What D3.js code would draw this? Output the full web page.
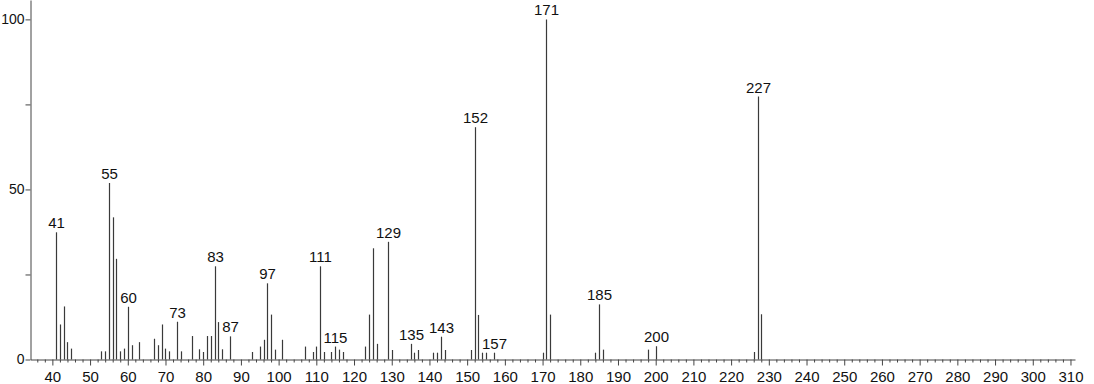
<!DOCTYPE html>
<html lang="en">
<head>
    <meta charset="UTF-8">
    <title>Mass Spectrum</title>
    <script src="https://d3js.org/d3.v7.min.js"></script>
    <style>
        body { margin: 0; background: #fff; }
        svg { display: block; }
        text { font-family: "Liberation Sans", Arial, sans-serif; fill: #111; }
    </style>
</head>
<body>
    <svg id="chart" width="1094" height="384"></svg>
    <script>
        // m/z values and relative intensities
        const masses = [41, 42, 43, 44, 45, 53, 54, 55, 56, 57, 58, 59, 60, 61, 63, 67, 68, 69, 70, 71,
            73, 74, 77, 79, 80, 81, 82, 83, 84, 85, 87, 93, 95, 96, 97, 98, 99, 101, 107, 109,
            110, 111, 112, 114, 115, 116, 117, 123, 124, 125, 126, 129, 130, 135, 136, 137, 141, 142, 143, 144,
            151, 152, 153, 154, 155, 157, 170, 171, 172, 184, 185, 186, 198, 200, 226, 227, 228];
        const intensities = [37.4, 10.3, 15.6, 5.1, 3.2, 2.4, 2.4, 51.9, 41.8, 29.6, 2.4, 3.2, 15.5, 4.2, 5.1, 6.1, 4.2, 10.3, 3.2, 2.4,
            11.1, 2.4, 6.9, 3.0, 2.2, 6.9, 6.9, 27.4, 11.0, 3.0, 6.8, 2.2, 3.8, 5.8, 22.4, 13.2, 2.9, 5.8, 3.8, 2.2,
            3.8, 27.4, 2.2, 2.2, 3.8, 2.9, 2.2, 3.8, 13.2, 32.7, 4.6, 34.6, 2.8, 4.6, 2.0, 2.8, 2.0, 2.0, 6.7, 2.8,
            2.8, 68.3, 13.1, 2.0, 2.0, 2.0, 2.0, 100, 13.2, 2.0, 16.2, 2.9, 2.9, 3.9, 2.2, 77.3, 13.3];
        const labeledPeaks = [41, 55, 60, 73, 83, 87, 97, 111, 115, 129, 135, 143, 152, 157, 171, 185, 200, 227];

        const xMajorTicks = d3.range(40, 311, 10);
        const xMinorTicks = d3.range(36, 311, 2).filter(d => d % 10 !== 0);
        const yMajorTicks = [0, 50, 100];
        const yMinorTicks = [25, 75];

        const peaks = masses.map((m, i) => ({ mz: m, value: intensities[i] }));

        const svg = d3.select("#chart");

        const x = d3.scaleLinear().domain([34.2, 311.2]).range([30.5, 1075]);
        const y = d3.scaleLinear().domain([0, 105.7]).range([359.5, 0]);

        // x axis: major ticks with labels, minor ticks without
        const xAxis = svg.append("g")
            .attr("transform", "translate(0,359.5)")
            .call(d3.axisBottom(x).tickValues(xMajorTicks).tickSize(6).tickSizeOuter(0).tickPadding(6)
                .tickFormat(d3.format("d")));
        xAxis.selectAll("text").style("font-size", "15px");

        svg.append("g")
            .attr("transform", "translate(0,359.5)")
            .call(d3.axisBottom(x).tickValues(xMinorTicks).tickSize(3).tickFormat(""))
            .call(g => g.select(".domain").remove());

        // y axis
        const yAxis = svg.append("g")
            .attr("transform", "translate(30.5,0)")
            .call(d3.axisLeft(y).tickValues(yMajorTicks).tickSize(5).tickSizeOuter(0).tickPadding(1));
        yAxis.selectAll("text").style("font-size", "14px");

        svg.append("g")
            .attr("transform", "translate(30.5,0)")
            .call(d3.axisLeft(y).tickValues(yMinorTicks).tickSize(5).tickFormat(""))
            .call(g => g.select(".domain").remove());

        svg.selectAll(".domain, .tick line").attr("stroke", "#444");

        // peaks
        svg.append("g")
            .selectAll("line")
            .data(peaks)
            .join("line")
            .attr("x1", d => Math.round(x(d.mz)) + 0.5)
            .attr("x2", d => Math.round(x(d.mz)) + 0.5)
            .attr("y1", y(0))
            .attr("y2", d => y(d.value))
            .attr("stroke", "#3a3a3a")
            .attr("stroke-width", 1.2);

        // peak labels
        svg.append("g")
            .selectAll("text")
            .data(peaks.filter(d => labeledPeaks.includes(d.mz)))
            .join("text")
            .attr("x", d => Math.round(x(d.mz)) + 0.5)
            .attr("y", d => y(d.value) - 4)
            .attr("text-anchor", "middle")
            .style("font-size", "15px")
            .text(d => d.mz);
    </script>
</body>
</html>
